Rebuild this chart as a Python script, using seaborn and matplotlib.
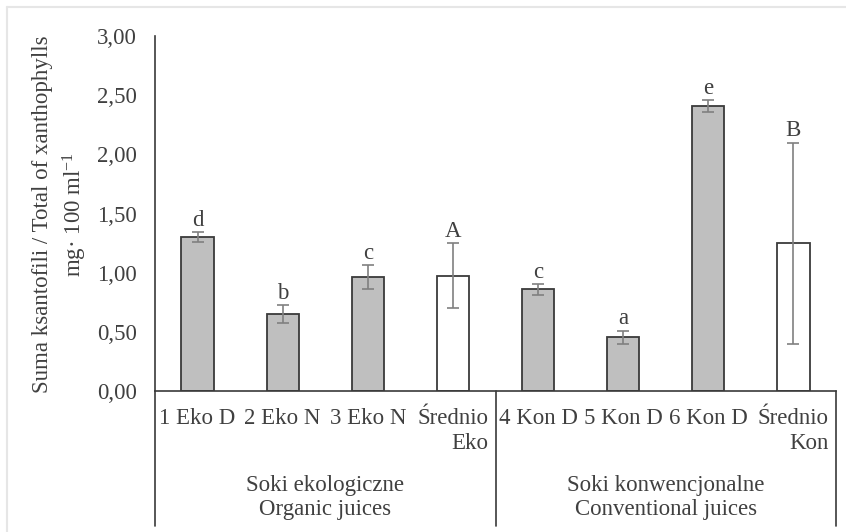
import matplotlib
matplotlib.use('Agg')
import matplotlib.pyplot as plt
import matplotlib.transforms as mtransforms
from matplotlib.lines import Line2D
import seaborn as sns
import pandas as pd

# dane
categories = ['1 Eko D', '2 Eko N', '3 Eko N', 'Średnio\nEko',
              '4 Kon D', '5 Kon D', '6 Kon D', 'Średnio\nKon']
values = [1.30, 0.65, 0.965, 0.975, 0.86, 0.455, 2.41, 1.25]
errors = [0.04, 0.075, 0.10, 0.275, 0.045, 0.055, 0.05, 0.85]
letters = ['d', 'b', 'c', 'A', 'c', 'a', 'e', 'B']
groups = ['Soki ekologiczne\nOrganic juices', 'Soki konwencjonalne\nConventional juices']
yticks = [0.0, 0.5, 1.0, 1.5, 2.0, 2.5, 3.0]

sns.set_style('white')
plt.rcParams['font.family'] = ['Liberation Serif', 'DejaVu Serif']
plt.rcParams['mathtext.fontset'] = 'custom'
plt.rcParams['mathtext.rm'] = 'Liberation Serif'
plt.rcParams['mathtext.default'] = 'regular'

txt = '#404040'
fs = 16.5
df = pd.DataFrame({'kat': categories, 'val': values})
colors = ['#bfbfbf' if not c.startswith('Średnio') else 'white' for c in categories]

fig = plt.figure(figsize=(8.46, 5.32), dpi=100)
ax = fig.add_axes([155/846, 1 - 391/532, (836 - 155)/846, (391 - 36)/532])

sns.barplot(data=df, x='kat', y='val', hue='kat', palette=colors, legend=False,
            width=0.38, edgecolor='#3a3a3a', linewidth=1.3, errorbar=None, ax=ax)
ax.errorbar(range(len(categories)), values, yerr=errors, fmt='none',
            ecolor='#808080', elinewidth=1.2, capsize=4.3, capthick=1.2)

for i, (v, e, l) in enumerate(zip(values, errors, letters)):
    ax.annotate(l, (i, v + e), xytext=(0, 1), textcoords='offset points',
                ha='center', va='bottom', fontsize=fs, color=txt)

ax.set_xlim(-0.5, len(categories) - 0.5)
ax.set_ylim(0, 3)
ax.set_yticks(yticks)
ax.set_yticklabels([f'{t:.2f}'.replace('.', ',') for t in yticks], fontsize=fs, color=txt)
ax.set_xticks(range(len(categories)))
ax.set_xticklabels(categories, fontsize=fs, color=txt, multialignment='right',
                   linespacing=1.3)
ax.tick_params(axis='y', length=0, pad=13)
ax.tick_params(axis='x', length=0, pad=12)
ax.set_xlabel('')
ax.set_ylabel('')

for s in ['top', 'right']:
    ax.spines[s].set_visible(False)
for s in ['left', 'bottom']:
    ax.spines[s].set_color('#3a3a3a')
    ax.spines[s].set_linewidth(1.2)

# linie pod osią (tabela kategorii)
trans = mtransforms.blended_transform_factory(ax.transData, ax.transAxes)
for x in [-0.5, 3.5, 7.5]:
    ax.plot([x, x], [0, -0.38], transform=trans, color='#3a3a3a', lw=1.2, clip_on=False)
ax.text(1.5, -0.30, groups[0], transform=trans, ha='center', va='center',
        fontsize=fs, color=txt, linespacing=1.2)
ax.text(5.5, -0.30, groups[1], transform=trans, ha='center', va='center',
        fontsize=fs, color=txt, linespacing=1.2)

# opis osi Y
fig.text(43/846, 1 - 214/532, 'Suma ksantofili / Total of xanthophylls', rotation=90,
         ha='center', va='center', fontsize=fs, color=txt)
fig.text(75/846, 1 - 214/532, 'mg· 100 ml$^{-1}$', rotation=90,
         ha='center', va='center', fontsize=fs, color=txt)

# delikatna ramka
fig.add_artist(Line2D([7/846, 1], [1 - 7/532, 1 - 7/532], transform=fig.transFigure,
                      color='#e6e6e6', lw=1.5))
fig.add_artist(Line2D([7/846, 7/846], [0, 1 - 7/532], transform=fig.transFigure,
                      color='#e6e6e6', lw=1.5))

fig.savefig('out.png', dpi=100)
